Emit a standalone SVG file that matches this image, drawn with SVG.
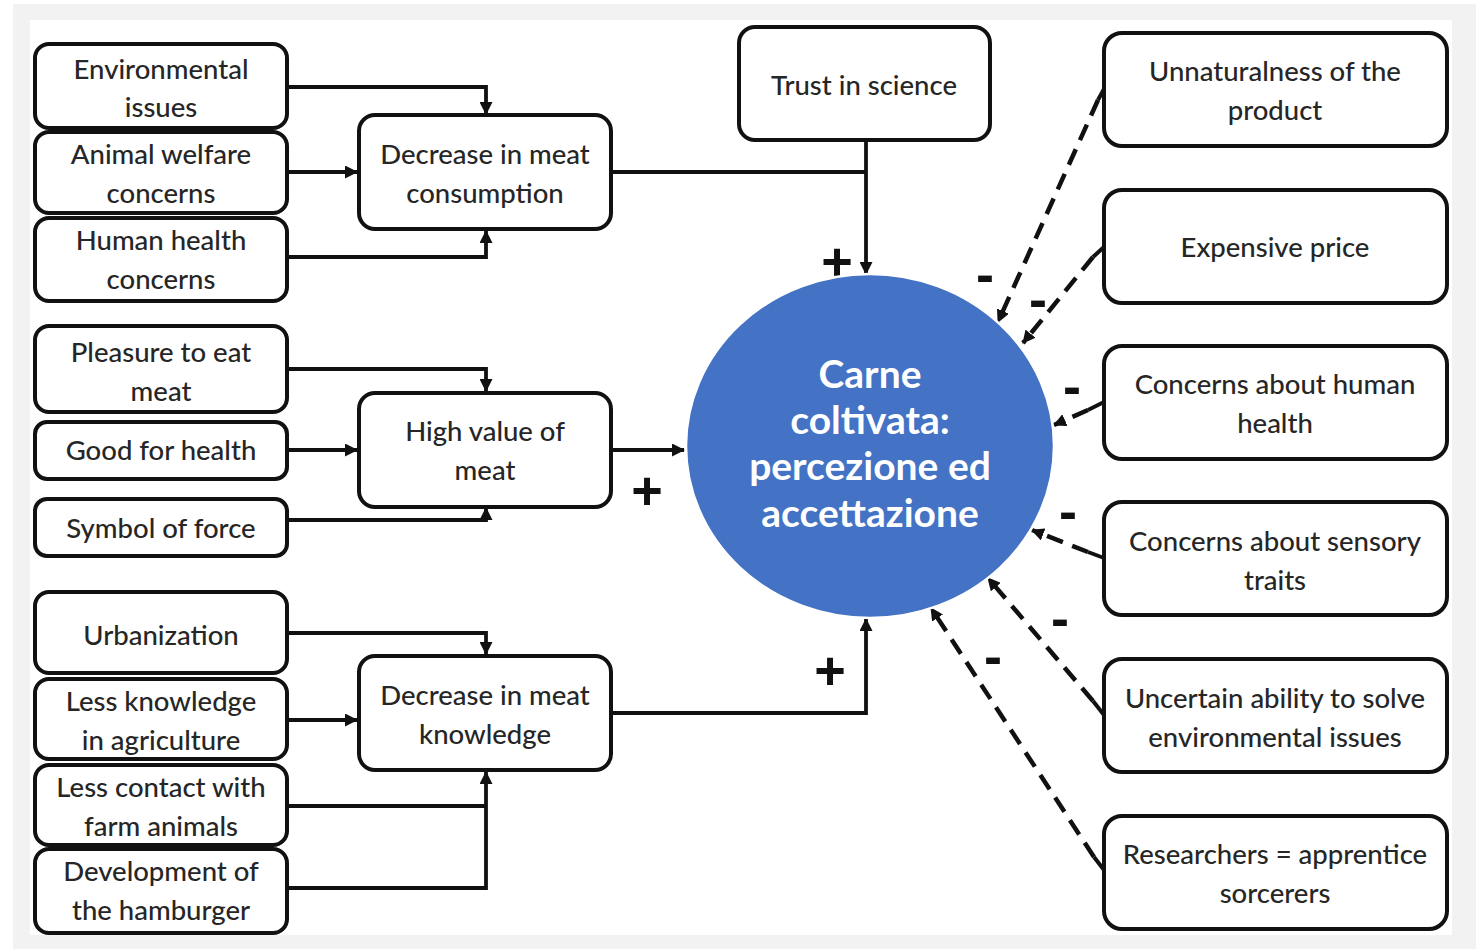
<svg xmlns="http://www.w3.org/2000/svg" width="1476" height="949" viewBox="0 0 1476 949">
<defs>
<style>
.box{fill:#fff;stroke:#111;stroke-width:4}
.t{font-family:Lato,"Open Sans","Liberation Sans",sans-serif;font-size:27.5px;fill:#262626;text-anchor:middle;font-weight:500}
.c{font-family:Lato,"Open Sans","Liberation Sans",sans-serif;font-size:39px;font-weight:bold;fill:#fff;text-anchor:middle}
.ln{fill:none;stroke:#111;stroke-width:3.8}
.dl{fill:none;stroke:#111;stroke-width:4.5;stroke-dasharray:17 10}
.tk{fill:none;stroke:#111;stroke-width:4}
.sg{font-family:"Liberation Sans",sans-serif;font-weight:bold;fill:#111;text-anchor:middle}
</style>
<marker id="ah" markerUnits="userSpaceOnUse" markerWidth="13" markerHeight="13" refX="12" refY="6.5" orient="auto">
<path d="M0,0 L13,6.5 L0,13 z" fill="#111"/>
</marker>
</defs>
<rect x="0" y="0" width="1476" height="949" fill="#fff"/>
<rect x="13" y="4" width="1463" height="945" fill="#f2f2f2"/>
<rect x="30" y="20" width="1422" height="915" fill="#fff"/>

<g id="connectors">
<path class="ln" d="M288,87 H486 V114" marker-end="url(#ah)"/>
<path class="ln" d="M288,172 H357" marker-end="url(#ah)"/>
<path class="ln" d="M288,257 H486 V231" marker-end="url(#ah)"/>
<path class="ln" d="M612,172 H866"/>
<path class="ln" d="M866,140 V274" marker-end="url(#ah)"/>
<path class="ln" d="M288,369 H486 V391" marker-end="url(#ah)"/>
<path class="ln" d="M288,450 H357" marker-end="url(#ah)"/>
<path class="ln" d="M288,520 H486 V508" marker-end="url(#ah)"/>
<path class="ln" d="M612,450 H684" marker-end="url(#ah)"/>
<path class="ln" d="M288,633 H486 V654" marker-end="url(#ah)"/>
<path class="ln" d="M288,720 H357" marker-end="url(#ah)"/>
<path class="ln" d="M288,806 H486"/>
<path class="ln" d="M288,888 H486 V772" marker-end="url(#ah)"/>
<path class="ln" d="M612,713 H866 V619" marker-end="url(#ah)"/>

<path class="tk" d="M1104,89 L1098,100"/>
<path class="dl" d="M1098,100 L998,322" marker-end="url(#ah)"/>
<path class="tk" d="M1104,247 L1093,257"/>
<path class="dl" d="M1093,257 L1023,343" marker-end="url(#ah)"/>
<path class="tk" d="M1104,402 L1088,410"/>
<path class="dl" d="M1088,410 L1054,425" marker-end="url(#ah)"/>
<path class="tk" d="M1104,558 L1088,552"/>
<path class="dl" d="M1088,552 L1032,530" marker-end="url(#ah)"/>
<path class="tk" d="M1104,715 L1093,701"/>
<path class="dl" d="M1093,701 L988,578" marker-end="url(#ah)"/>
<path class="tk" d="M1104,870 L1094,857"/>
<path class="dl" d="M1094,857 L931,608" marker-end="url(#ah)"/>

<text class="sg" x="837" y="280" font-size="54">+</text>
<text class="sg" x="647" y="509" font-size="54">+</text>
<text class="sg" x="830" y="689" font-size="54">+</text>
<text class="sg" x="985" y="293" font-size="54">-</text>
<text class="sg" x="1038" y="318" font-size="54">-</text>
<text class="sg" x="1072" y="405" font-size="54">-</text>
<text class="sg" x="1068" y="530" font-size="54">-</text>
<text class="sg" x="1060" y="637" font-size="54">-</text>
<text class="sg" x="993" y="675" font-size="54">-</text>
</g>

<g id="env"><rect class="box" x="35" y="44" width="252" height="84" rx="14"/><text class="t" x="161" y="79">Environmental</text><text class="t" x="161" y="117">issues</text></g>
<g id="animal"><rect class="box" x="35" y="132" width="252" height="81" rx="14"/><text class="t" x="161" y="164">Animal welfare</text><text class="t" x="161" y="203">concerns</text></g>
<g id="human"><rect class="box" x="35" y="218" width="252" height="83" rx="14"/><text class="t" x="161" y="250">Human health</text><text class="t" x="161" y="289">concerns</text></g>
<g id="decr-cons"><rect class="box" x="359" y="115" width="252" height="114" rx="16"/><text class="t" x="485" y="164">Decrease in meat</text><text class="t" x="485" y="203">consumption</text></g>
<g id="trust"><rect class="box" x="739" y="27" width="251" height="113" rx="16"/><text class="t" x="864" y="95">Trust in science</text></g>

<g id="pleasure"><rect class="box" x="35" y="326" width="252" height="86" rx="14"/><text class="t" x="161" y="362">Pleasure to eat</text><text class="t" x="161" y="401">meat</text></g>
<g id="good"><rect class="box" x="35" y="422" width="252" height="57" rx="12"/><text class="t" x="161" y="460">Good for health</text></g>
<g id="symbol"><rect class="box" x="35" y="499" width="252" height="57" rx="12"/><text class="t" x="161" y="538">Symbol of force</text></g>
<g id="high"><rect class="box" x="359" y="393" width="252" height="114" rx="16"/><text class="t" x="485" y="441">High value of</text><text class="t" x="485" y="480">meat</text></g>

<g id="urban"><rect class="box" x="35" y="592" width="252" height="81" rx="14"/><text class="t" x="161" y="645">Urbanization</text></g>
<g id="lessknow"><rect class="box" x="35" y="679" width="252" height="80" rx="14"/><text class="t" x="161" y="711">Less knowledge</text><text class="t" x="161" y="750">in agriculture</text></g>
<g id="lesscontact"><rect class="box" x="35" y="765" width="252" height="80" rx="14"/><text class="t" x="161" y="797">Less contact with</text><text class="t" x="161" y="836">farm animals</text></g>
<g id="hamburger"><rect class="box" x="35" y="849" width="252" height="84" rx="14"/><text class="t" x="161" y="881">Development of</text><text class="t" x="161" y="920">the hamburger</text></g>
<g id="decr-know"><rect class="box" x="359" y="656" width="252" height="114" rx="16"/><text class="t" x="485" y="705">Decrease in meat</text><text class="t" x="485" y="744">knowledge</text></g>

<g id="unnatural"><rect class="box" x="1104" y="33" width="343" height="113" rx="18"/><text class="t" x="1275" y="81">Unnaturalness of the</text><text class="t" x="1275" y="120">product</text></g>
<g id="price"><rect class="box" x="1104" y="190" width="343" height="113" rx="18"/><text class="t" x="1275" y="257">Expensive price</text></g>
<g id="healthc"><rect class="box" x="1104" y="346" width="343" height="113" rx="18"/><text class="t" x="1275" y="394">Concerns about human</text><text class="t" x="1275" y="433">health</text></g>
<g id="sensory"><rect class="box" x="1104" y="502" width="343" height="113" rx="18"/><text class="t" x="1275" y="551">Concerns about sensory</text><text class="t" x="1275" y="590">traits</text></g>
<g id="uncertain"><rect class="box" x="1104" y="659" width="343" height="113" rx="18"/><text class="t" x="1275" y="708">Uncertain ability to solve</text><text class="t" x="1275" y="747">environmental issues</text></g>
<g id="researchers"><rect class="box" x="1104" y="816" width="343" height="113" rx="18"/><text class="t" x="1275" y="864">Researchers = apprentice</text><text class="t" x="1275" y="903">sorcerers</text></g>

<g id="center">
<ellipse cx="870" cy="446" rx="184" ry="172" fill="#4472c4" stroke="#fff" stroke-width="2.5"/>
<text class="c" x="870" y="388">Carne</text>
<text class="c" x="870" y="434">coltivata:</text>
<text class="c" x="870" y="480">percezione ed</text>
<text class="c" x="870" y="527">accettazione</text>
</g>
</svg>
